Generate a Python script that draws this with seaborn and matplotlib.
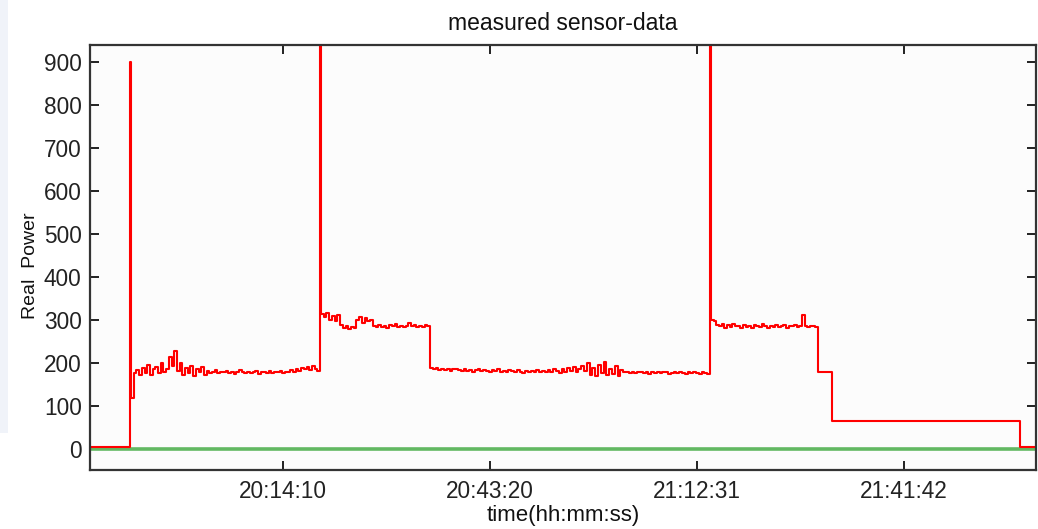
import matplotlib
matplotlib.use("Agg")
import matplotlib.pyplot as plt
import matplotlib.patches as mpatches
import pandas as pd
import seaborn as sns

# ---------------- data ----------------
title = "measured sensor-data"
x_label = "time(hh:mm:ss)"
y_label = "Real  Power"
x_tick_labels = ["20:14:10", "20:43:20", "21:12:31", "21:41:42"]
y_ticks = [0, 100, 200, 300, 400, 500, 600, 700, 800, 900]
y_limits = [-50, 939]

# phase start times of the recording (hh:mm:ss) and the end of the recording
phase_starts = ["19:46:58", "19:52:37", "19:52:45", "20:19:23", "20:19:31",
                "20:34:53", "21:14:20", "21:14:28", "21:29:33", "21:31:31",
                "21:58:00"]
record_end = "22:00:16"

# readings (Real Power) within each phase, evenly sampled over the phase
idle_start = [4, 4, 4, 4]
spike_1 = [900]
run_a = [118, 176,
         182, 170, 188, 176, 195, 172, 184, 190, 175, 200,
         178, 186, 214, 192, 226, 180, 198, 171, 188, 176,
         193, 168, 185, 178, 190, 172,
         180, 176, 178, 182, 175, 178, 177, 181, 176, 179,
         174, 178, 183, 177, 176, 179, 175, 178, 180, 174,
         177, 179, 176, 181, 175, 178, 177, 180, 176, 179, 178,
         182, 179, 186, 181, 188, 184, 190, 183, 192, 186, 181]
spike_2 = [1350]
run_b = [312, 305, 315, 300, 308, 296, 310,
         288, 280, 284, 279, 283, 281,
         298, 306, 292, 303, 296, 300,
         286, 282, 288, 283, 285, 281, 287, 284, 289, 283,
         286, 282, 285, 291, 284, 287, 282, 286, 283, 288, 284]
run_c = [188, 184, 187, 183, 186, 182, 185, 181, 184, 186,
         182, 180, 184, 181, 183, 179, 182, 185, 180, 183,
         181, 178, 182, 180, 184, 179, 181, 177, 183, 180,
         178, 182, 179, 176, 181, 178, 180, 177, 182, 179,
         181, 177, 183, 178, 186, 180, 176, 184, 179, 187,
         181, 190, 178, 185, 192,
         180, 198, 172, 188, 168, 195, 176, 202, 170, 186,
         174, 191, 169, 183, 177,
         179, 176, 178, 175, 177, 179, 176, 178, 174, 177,
         176, 179, 175, 177, 178, 174, 176, 178, 175, 177,
         176, 174, 177, 175, 178, 176, 174, 177, 175, 173]
spike_3 = [1300]
run_d = [300, 296, 288, 284, 290, 281, 287, 283, 289, 284,
         286, 281, 288, 283, 285, 280, 287, 284, 282, 289,
         285, 281, 286, 283, 288, 282, 285, 287, 281, 286,
         284, 288, 283, 286, 310, 285, 282, 286, 284, 283]
step_e = [178]
standby_f = [65, 65, 65, 65, 65, 65, 65, 65]
idle_end = [3, 3]

phase_values = [idle_start, spike_1, run_a, spike_2, run_b, run_c,
                spike_3, run_d, step_e, standby_f, idle_end]

baseline_values = [0, 0]


def to_sec(s):
    h, m, sec = (int(v) for v in s.split(":"))
    return h * 3600 + m * 60 + sec


# ---------------- build tables ----------------
bounds = [to_sec(s) for s in phase_starts] + [to_sec(record_end)]
rows = []
for i, vals in enumerate(phase_values):
    t0, t1 = bounds[i], bounds[i + 1]
    n = len(vals)
    for k, v in enumerate(vals):
        rows.append((t0 + k * (t1 - t0) / n, v))
rows.append((bounds[-1], phase_values[-1][-1]))
df = pd.DataFrame(rows, columns=["t", "power"])
df_base = pd.DataFrame({"t": [bounds[0], bounds[-1]], "power": baseline_values})

# ---------------- plot ----------------
sns.set_theme(style="white")
plt.rcParams["font.family"] = ["Liberation Sans", "DejaVu Sans"]

fig = plt.figure(figsize=(10.38, 5.29), dpi=100)
fig.patch.set_facecolor("white")
W, H = 1038, 529
ax = fig.add_axes([90 / W, 1 - 470 / H, (1036 - 90) / W, (470 - 45) / H])
ax.set_facecolor("#fcfcfc")

# faint blue strip at the left of the screenshot
fig.patches.append(mpatches.Rectangle((0, 1 - 433 / H), 8 / W, 433 / H,
                                      transform=fig.transFigure,
                                      facecolor="#f0f3f9", edgecolor="none",
                                      zorder=0))

sns.lineplot(data=df_base, x="t", y="power", ax=ax, color="#62b862",
             linewidth=2.6, estimator=None)
sns.lineplot(data=df, x="t", y="power", ax=ax, color="#ff0000",
             linewidth=1.5, estimator=None, drawstyle="steps-post")

ax.set_xlim(bounds[0], bounds[-1])
ax.set_ylim(*y_limits)
ax.set_xticks([to_sec(s) for s in x_tick_labels], x_tick_labels)
ax.set_yticks(y_ticks, [str(v) for v in y_ticks])

ax.tick_params(axis="both", direction="in", length=6.5, width=1.4,
               color="#222222", labelsize=16.3, labelcolor="#222222",
               top=True, right=True, bottom=True, left=True)
ax.tick_params(axis="y", pad=6)
ax.tick_params(axis="x", pad=7)

for sp in ax.spines.values():
    sp.set_visible(True)
    sp.set_color("#333333")
    sp.set_linewidth(1.6)

ax.set_title(title, fontsize=16.5, color="#111111", pad=11)
ax.set_xlabel(x_label, fontsize=16, color="#111111")
ax.set_ylabel(y_label, fontsize=14, color="#111111")
ax.xaxis.set_label_coords(0.5, -0.083)
ax.yaxis.set_label_coords(-0.054, 0.48)

fig.savefig("out.png", dpi=100)
